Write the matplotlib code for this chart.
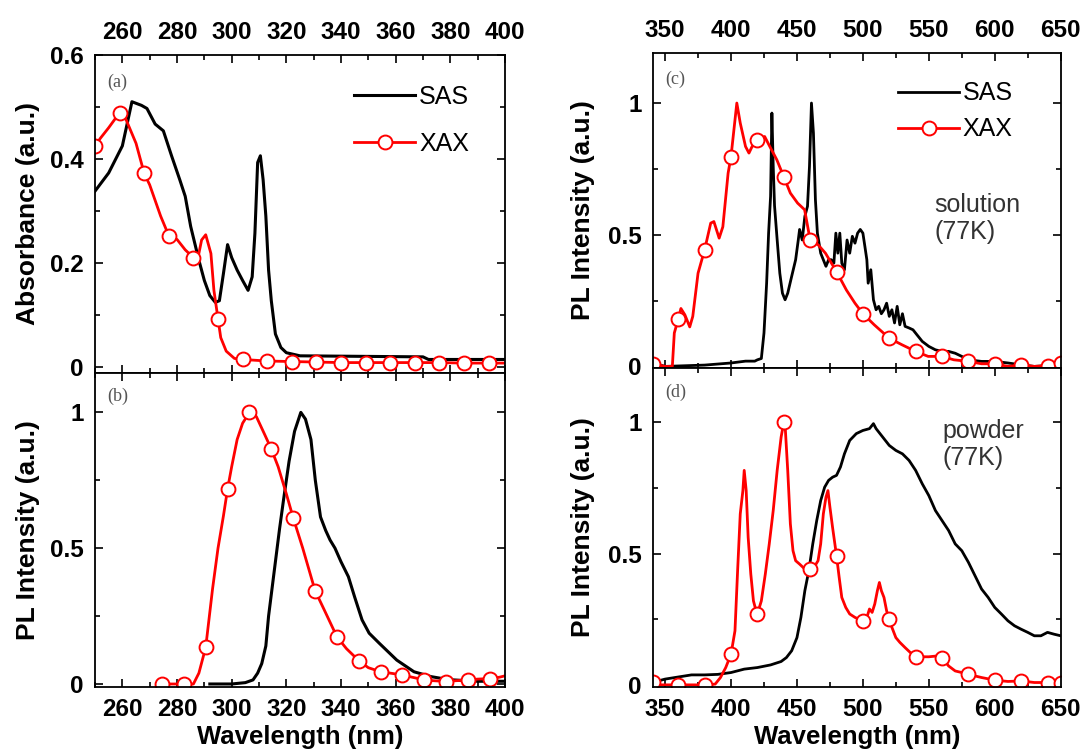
import numpy as np
import matplotlib
matplotlib.use("Agg")
import matplotlib.pyplot as plt
from matplotlib.ticker import MultipleLocator, FormatStrFormatter

# (a) absorbance
wl_a_sas = [250, 255, 260, 263.5, 267, 269, 272, 275, 278, 281, 283, 285, 288, 290, 292, 294,
            295.5, 297, 298.5, 300, 302, 304, 306, 307.5, 308.5, 309.5, 310.5, 311.5, 312.5,
            313.5, 314.5, 316, 318, 320, 325, 370, 372, 400]
abs_a_sas = [0.338, 0.373, 0.425, 0.51, 0.503, 0.497, 0.467, 0.454, 0.406, 0.36, 0.328, 0.27,
             0.205, 0.166, 0.137, 0.124, 0.127, 0.18, 0.235, 0.21, 0.186, 0.166, 0.147, 0.173,
             0.257, 0.393, 0.406, 0.36, 0.29, 0.186, 0.127, 0.063, 0.037, 0.027, 0.021, 0.019,
             0.014, 0.014]
wl_a_xax = [250, 252, 255, 259, 261, 263, 265, 268, 270, 272, 274, 277, 280, 283, 286, 288, 289,
            290.5, 292.4, 293.5, 295, 296, 298, 301, 304, 313, 322, 331, 340, 349, 358, 367,
            376, 385, 394, 400]
abs_a_xax = [0.425, 0.44, 0.46, 0.489, 0.48, 0.455, 0.43, 0.372, 0.35, 0.32, 0.29, 0.252, 0.245,
             0.225, 0.21, 0.218, 0.244, 0.254, 0.218, 0.147, 0.092, 0.056, 0.03, 0.016, 0.014,
             0.011, 0.01, 0.009, 0.008, 0.008, 0.008, 0.008, 0.008, 0.007, 0.007, 0.007]
mk_a_xax = [250, 259, 268, 277, 286, 295, 304, 313, 322, 331, 340, 349, 358, 367, 376, 385, 394]

# (b) PL, room temperature
wl_b_sas = [292, 300, 305, 307.8, 309.5, 311, 312.5, 313.5, 315, 316, 317.5, 319, 321, 323,
            325.3, 327, 329, 330.6, 332.5, 334.4, 336, 337.8, 340, 342.7, 345, 347.7, 350.3,
            354, 360.4, 366.7, 373, 379.4, 390, 400]
pl_b_sas = [0, 0, 0.005, 0.015, 0.04, 0.075, 0.14, 0.25, 0.37, 0.45, 0.57, 0.68, 0.82, 0.93,
            1.0, 0.975, 0.9, 0.75, 0.615, 0.565, 0.53, 0.5, 0.45, 0.395, 0.32, 0.236, 0.187,
            0.15, 0.088, 0.045, 0.027, 0.016, 0.01, 0.01]
wl_b_xax = [273, 274.5, 278.5, 282.5, 286, 288, 290.5, 293, 295, 297, 298.5, 300, 302, 304,
            306.5, 309, 312, 314.5, 317, 320, 322.5, 326, 330.5, 334, 338.5, 342, 346.5, 350,
            354.5, 358, 362.5, 366, 370.5, 374, 378.5, 382, 386.5, 390, 394.5, 398, 400]
pl_b_xax = [0.0, 0.0, 0.0, 0.0, 0.0, 0.04, 0.135, 0.35, 0.5, 0.62, 0.718, 0.8, 0.9, 0.96, 1.0,
            0.985, 0.92, 0.865, 0.8, 0.7, 0.612, 0.5, 0.344, 0.27, 0.174, 0.13, 0.086, 0.06,
            0.045, 0.04, 0.033, 0.025, 0.015, 0.012, 0.009, 0.012, 0.015, 0.018, 0.02, 0.025,
            0.03]
mk_b_xax = [274.5, 282.5, 290.5, 298.5, 306.5, 314.5, 322.5, 330.5, 338.5, 346.5, 354.5, 362.5,
            370.5, 378.5, 386.5, 394.5]

# (c) PL, solution 77K
wl_c_sas = [341, 350, 380, 400, 411, 418, 420, 423, 425, 427, 428.5, 430, 431, 432, 433, 435,
            437, 439, 441, 443, 446, 449, 451, 452, 454, 456, 458, 459.5, 461, 462.5, 464,
            465.5, 468, 470, 472, 474, 476, 478, 479.5, 481, 482.5, 484, 486, 488, 490, 492,
            494, 496, 498, 500, 501.5, 503, 504, 506, 508, 510, 512, 514, 516, 518, 520, 522,
            524, 526, 528, 530, 532, 535, 538, 541, 545, 550, 555, 560, 565, 570, 575, 580,
            590, 600, 610, 620, 630, 650]
pl_c_sas = [0.013, 0.0, 0.005, 0.013, 0.02, 0.02, 0.025, 0.03, 0.127, 0.316, 0.506, 0.646,
            0.962, 0.76, 0.61, 0.48, 0.354, 0.278, 0.253, 0.278, 0.342, 0.405, 0.48, 0.52,
            0.48, 0.57, 0.608, 0.76, 1.0, 0.886, 0.633, 0.506, 0.43, 0.405, 0.38, 0.405,
            0.405, 0.392, 0.506, 0.43, 0.506, 0.392, 0.367, 0.48, 0.43, 0.494, 0.468, 0.506,
            0.52, 0.506, 0.456, 0.405, 0.316, 0.367, 0.253, 0.215, 0.228, 0.2, 0.215, 0.24,
            0.19, 0.215, 0.165, 0.228, 0.158, 0.2, 0.152, 0.146, 0.139, 0.12, 0.095, 0.076,
            0.063, 0.057, 0.057, 0.05, 0.038, 0.025, 0.019, 0.019, 0.013, 0.006, 0.0, 0.006]
wl_c_xax = [341, 350, 355.5, 357, 360, 362, 365, 368.7, 371, 375, 380, 384.6, 387, 391, 393.8,
            397.8, 400, 404.4, 407, 411, 413.6, 416, 420, 425.5, 429.4, 434.7, 440, 445, 450.5,
            455.8, 460, 466, 471.6, 480, 487.5, 494, 500, 508.6, 520, 529.7, 540, 549.5, 560,
            569, 580, 590, 600, 610, 620, 630, 640, 650]
pl_c_xax = [0.01, 0.0, 0.0, 0.127, 0.18, 0.22, 0.196, 0.15, 0.19, 0.354, 0.443, 0.544, 0.55,
            0.487, 0.53, 0.734, 0.797, 1.0, 0.924, 0.835, 0.81, 0.835, 0.86, 0.873, 0.835,
            0.785, 0.72, 0.658, 0.62, 0.595, 0.48, 0.462, 0.43, 0.36, 0.29, 0.24, 0.2, 0.158,
            0.107, 0.082, 0.057, 0.038, 0.038, 0.025, 0.019, 0.01, 0.01, 0.0, 0.006, 0.0,
            0.003, 0.013]
mk_c_xax = [341, 360, 380, 400, 420, 440, 460, 480, 500, 520, 540, 560, 580, 600, 620, 640, 650]

# (d) PL, powder 77K
wl_d_sas = [341, 350, 360, 370, 380, 390, 400, 410, 420, 430, 438, 442, 446, 450, 453, 456,
            459, 462, 465, 468, 471, 474, 477, 480, 483, 486, 490, 495, 500, 505, 508, 510,
            515, 520, 525, 530, 535, 540, 545, 550, 555, 560, 565, 570, 575, 580, 585, 590,
            595, 600, 605, 610, 615, 620, 625, 630, 635, 640, 645, 650]
pl_d_sas = [0.01, 0.022, 0.03, 0.038, 0.038, 0.04, 0.047, 0.06, 0.066, 0.076, 0.089, 0.104,
            0.13, 0.18, 0.257, 0.359, 0.435, 0.537, 0.626, 0.702, 0.753, 0.779, 0.791, 0.798,
            0.83, 0.88, 0.931, 0.957, 0.969, 0.976, 0.995, 0.976, 0.944, 0.912, 0.893, 0.88,
            0.855, 0.817, 0.766, 0.721, 0.664, 0.626, 0.588, 0.537, 0.511, 0.467, 0.416,
            0.365, 0.333, 0.295, 0.27, 0.244, 0.225, 0.212, 0.2, 0.187, 0.187, 0.2, 0.193,
            0.187]
wl_d_xax = [341, 345, 360, 380, 388, 392, 396, 400, 403, 405, 407, 409, 410, 411.5, 413, 415,
            417, 419, 420, 423, 426, 429, 432, 435, 438, 440, 441, 443, 445, 447, 449, 452,
            456, 460, 463, 466, 468, 470, 472, 473.5, 475, 477, 480, 482, 484, 487, 490, 494,
            497, 500, 503, 505, 507, 509, 511, 512.5, 514, 516, 518, 520, 522, 525, 528, 532,
            536, 540, 545, 550, 556, 560, 565, 570, 575, 580, 590, 600, 610, 620, 630, 640,
            650]
pl_d_xax = [0.01, 0.0, 0.0, 0.0, 0.003, 0.028, 0.066, 0.117, 0.206, 0.435, 0.651, 0.74, 0.817,
            0.74, 0.562, 0.422, 0.32, 0.282, 0.27, 0.32, 0.422, 0.537, 0.664, 0.817, 0.944,
            1.0, 0.99, 0.817, 0.613, 0.511, 0.473, 0.46, 0.441, 0.441, 0.448, 0.473, 0.537,
            0.651, 0.715, 0.74, 0.677, 0.6, 0.492, 0.41, 0.333, 0.295, 0.27, 0.257, 0.25,
            0.242, 0.257, 0.289, 0.276, 0.308, 0.359, 0.39, 0.359, 0.333, 0.282, 0.25, 0.219,
            0.18, 0.162, 0.142, 0.123, 0.107, 0.107, 0.107, 0.11, 0.104, 0.072, 0.053, 0.047,
            0.04, 0.028, 0.018, 0.013, 0.015, 0.009, 0.009, 0.009]
mk_d_xax = [341, 360, 380, 400, 420, 440, 460, 480, 500, 520, 540, 560, 580, 600, 620, 640, 650]

plt.rcParams["font.family"] = ["Liberation Sans", "DejaVu Sans"]

YLAB = dict(fontsize=19, fontweight="bold")
RED = "#ff0000"
SERIF = ["Liberation Serif", "DejaVu Serif"]


def style_axis(ax, xmaj, xmin, ymaj, ymin, top_labels):
    ax.xaxis.set_major_locator(MultipleLocator(xmaj))
    ax.xaxis.set_minor_locator(MultipleLocator(xmin))
    ax.yaxis.set_major_locator(MultipleLocator(ymaj))
    ax.yaxis.set_minor_locator(MultipleLocator(ymin))
    ax.yaxis.set_major_formatter(FormatStrFormatter("%g"))
    ax.tick_params(which="both", direction="in", top=True, right=True, width=1.2)
    ax.tick_params(which="major", length=6)
    ax.tick_params(which="minor", length=3.5)
    ax.tick_params(labeltop=top_labels, labelbottom=not top_labels, labelsize=17.5)
    ax.tick_params(axis="x", pad=8)
    ax.tick_params(axis="y", pad=8)
    for lab in ax.get_xticklabels() + ax.get_yticklabels():
        lab.set_fontweight("bold")
    for sp in ax.spines.values():
        sp.set_linewidth(1.3)


def plot_xax(ax, wl, vals, marks):
    idx = [wl.index(m) for m in marks]
    ax.plot(wl, vals, color=RED, lw=2.0, marker="o", markersize=10, markevery=idx,
            markerfacecolor="white", markeredgecolor=RED, markeredgewidth=1.4, label="XAX")


def add_legend(ax, x, y, spacing):
    ax.legend(loc="upper left", bbox_to_anchor=(x, y), frameon=False, fontsize=18,
              handlelength=2.45, handletextpad=0.15, labelspacing=spacing, borderaxespad=0,
              borderpad=0)


fig = plt.figure(figsize=(10.86, 7.55), dpi=100)
ax_a = fig.add_axes([0.0875, 0.506, 0.3775, 0.4212])
ax_b = fig.add_axes([0.0875, 0.0901, 0.3775, 0.4159])
ax_c = fig.add_axes([0.601, 0.5126, 0.3757, 0.4172])
ax_d = fig.add_axes([0.601, 0.0901, 0.3757, 0.4225])

# (a)
ax_a.plot(wl_a_sas, abs_a_sas, color="black", lw=2.2, label="SAS")
plot_xax(ax_a, wl_a_xax, abs_a_xax, mk_a_xax)
ax_a.set_xlim(250, 400)
ax_a.set_ylim(-0.012, 0.6)
style_axis(ax_a, 20, 10, 0.2, 0.1, True)
ax_a.set_ylabel("Absorbance (a.u.)", **YLAB)
ax_a.yaxis.set_label_coords(-0.134, 0.5)
add_legend(ax_a, 0.632, 0.905, 0.92)
ax_a.text(0.03, 0.915, "(a)", transform=ax_a.transAxes, fontsize=13, color="#555555",
          family=SERIF, va="center")

# (b)
ax_b.plot(wl_b_sas, pl_b_sas, color="black", lw=2.2)
plot_xax(ax_b, wl_b_xax, pl_b_xax, mk_b_xax)
ax_b.set_xlim(250, 400)
ax_b.set_ylim(-0.011, 1.145)
style_axis(ax_b, 20, 10, 0.5, 0.25, False)
ax_b.set_ylabel("PL Intensity (a.u.)", **YLAB)
ax_b.yaxis.set_label_coords(-0.134, 0.5)
ax_b.set_xlabel("Wavelength (nm)", fontsize=18.5, fontweight="bold", labelpad=3)
ax_b.text(0.03, 0.925, "(b)", transform=ax_b.transAxes, fontsize=13, color="#555555",
          family=SERIF, va="center")

# (c)
ax_c.plot(wl_c_sas, pl_c_sas, color="black", lw=2.0, label="SAS")
plot_xax(ax_c, wl_c_xax, pl_c_xax, mk_c_xax)
ax_c.set_xlim(340.6, 650)
ax_c.set_ylim(-0.006, 1.19)
style_axis(ax_c, 50, 25, 0.5, 0.25, True)
ax_c.set_ylabel("PL Intensity (a.u.)", **YLAB)
ax_c.yaxis.set_label_coords(-0.141, 0.5)
add_legend(ax_c, 0.601, 0.91, 0.48)
ax_c.text(0.03, 0.915, "(c)", transform=ax_c.transAxes, fontsize=13, color="#555555",
          family=SERIF, va="center")
ax_c.text(0.69, 0.555, "solution\n(77K)", transform=ax_c.transAxes, fontsize=18,
          color="#333333", va="top", linespacing=1.15)

# (d)
ax_d.plot(wl_d_sas, pl_d_sas, color="black", lw=2.0)
plot_xax(ax_d, wl_d_xax, pl_d_xax, mk_d_xax)
ax_d.set_xlim(340.6, 650)
ax_d.set_ylim(-0.008, 1.207)
style_axis(ax_d, 50, 25, 0.5, 0.25, False)
ax_d.set_ylabel("PL Intensity (a.u.)", **YLAB)
ax_d.yaxis.set_label_coords(-0.141, 0.5)
ax_d.set_xlabel("Wavelength (nm)", fontsize=18.5, fontweight="bold", labelpad=3)
ax_d.text(0.03, 0.925, "(d)", transform=ax_d.transAxes, fontsize=13, color="#555555",
          family=SERIF, va="center")
ax_d.text(0.71, 0.84, "powder\n(77K)", transform=ax_d.transAxes, fontsize=18,
          color="#333333", va="top", linespacing=1.15)

fig.savefig("out.png", dpi=100)
plt.close(fig)
